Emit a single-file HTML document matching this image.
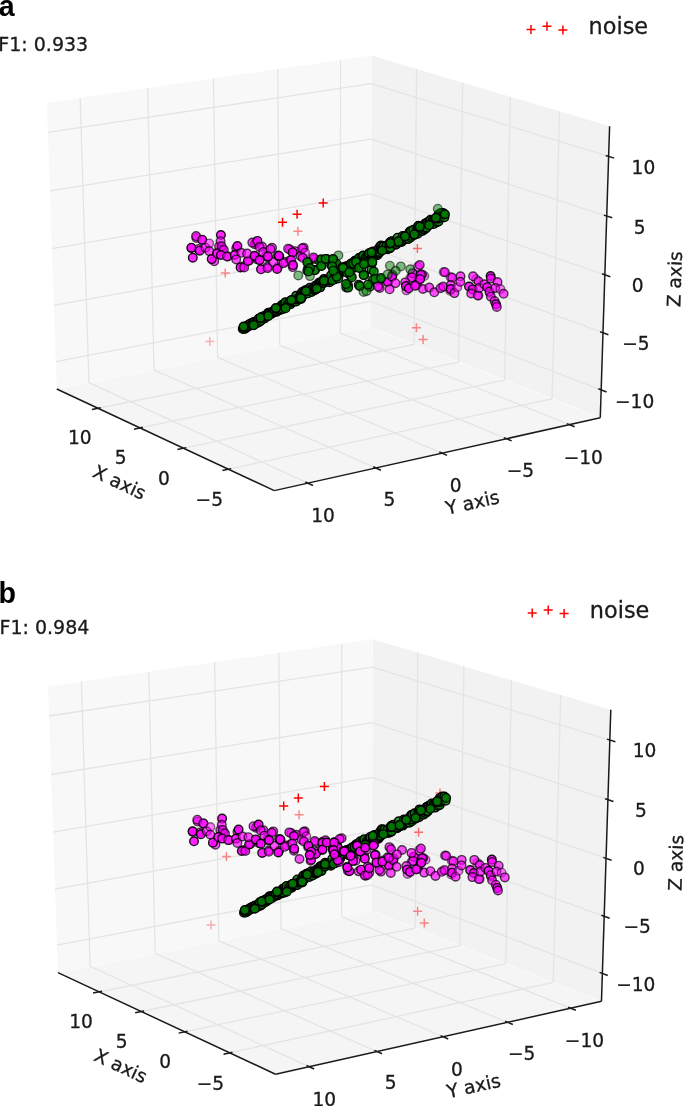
<!DOCTYPE html>
<html><head><meta charset="utf-8"><title>figure</title><style>
html,body{margin:0;padding:0;background:#fff}
svg{display:block}
text{font-family:"DejaVu Sans","Liberation Sans",sans-serif;fill:#1a1a1a;stroke:#1a1a1a;stroke-width:.3px}
.tl text{font-size:18.6px;text-anchor:middle}
.g{stroke:#e4e4e4;stroke-width:1.3}
.e{stroke:#fafafa;stroke-width:1}
.a{stroke:#1a1a1a;stroke-width:1.5;stroke-linecap:butt}
circle{stroke:#000;stroke-width:1.4}
.m1{fill:#ff00ff;fill-opacity:.5;stroke-opacity:.5}
.m2{fill:#ff00ff;fill-opacity:.68;stroke-opacity:.7}
.m3{fill:#ff00ff;fill-opacity:.85;stroke-opacity:.9}
.n1{fill:#008000;fill-opacity:.5;stroke-opacity:.55}
.n2{fill:#008000;fill-opacity:.82;stroke-opacity:.9}
.n3{fill:#008000;fill-opacity:.8;stroke-opacity:1}
.n4{fill:#008000;fill-opacity:.85;stroke-opacity:1}
.p{stroke:#ff0000;stroke-width:1.5;fill:none}
.ttl{font-family:"Liberation Sans",sans-serif;font-weight:bold;font-size:28.6px;fill:#000;stroke:none}
.f1{font-size:19px}
.lg{font-size:22.4px}
</style></head>
<body>
<svg width="685" height="1106" viewBox="0 0 685 1106">
<rect width="685" height="1106" fill="#fff"/>
<g id="pa">
<polygon points="56.76,388.99 370.25,327.27 371.28,55.55 46.91,102.79" fill="#f8f8f8"/>
<polygon points="370.25,327.27 600.28,417.73 609.6,126.25 371.28,55.55" fill="#f2f2f2"/>
<polygon points="56.76,388.99 274.32,490.62 600.28,417.73 370.25,327.27" fill="#f5f5f5"/>
<g class="pe">
<line class="e" x1="370.25" y1="327.27" x2="371.28" y2="55.55"/>
<line class="e" x1="56.76" y1="388.99" x2="370.25" y2="327.27"/>
<line class="e" x1="370.25" y1="327.27" x2="600.28" y2="417.73"/>
</g>
<g class="gr">
<line class="g" x1="98.03" y1="408.26" x2="414.05" y2="344.5"/>
<line class="g" x1="414.05" y1="344.5" x2="416.56" y2="68.99"/>
<line class="g" x1="140.09" y1="427.91" x2="458.61" y2="362.02"/>
<line class="g" x1="458.61" y1="362.02" x2="462.67" y2="82.67"/>
<line class="g" x1="183.56" y1="448.22" x2="504.58" y2="380.1"/>
<line class="g" x1="504.58" y1="380.1" x2="510.3" y2="96.79"/>
<line class="g" x1="228.52" y1="469.22" x2="552.03" y2="398.76"/>
<line class="g" x1="552.03" y1="398.76" x2="559.5" y2="111.39"/>
<line class="g" x1="307.87" y1="483.11" x2="88.89" y2="382.66"/>
<line class="g" x1="88.89" y1="382.66" x2="80.21" y2="97.94"/>
<line class="g" x1="375.75" y1="467.94" x2="153.98" y2="369.85"/>
<line class="g" x1="153.98" y1="369.85" x2="147.64" y2="88.12"/>
<line class="g" x1="441.93" y1="453.14" x2="217.57" y2="357.33"/>
<line class="g" x1="217.57" y1="357.33" x2="213.46" y2="78.54"/>
<line class="g" x1="506.47" y1="438.7" x2="279.72" y2="345.1"/>
<line class="g" x1="279.72" y1="345.1" x2="277.73" y2="69.18"/>
<line class="g" x1="569.44" y1="424.62" x2="340.46" y2="333.14"/>
<line class="g" x1="340.46" y1="333.14" x2="340.51" y2="60.03"/>
<line class="g" x1="47.93" y1="132.41" x2="371.17" y2="83.62"/>
<line class="g" x1="371.17" y1="83.62" x2="608.63" y2="156.43"/>
<line class="g" x1="49.95" y1="190.9" x2="370.96" y2="139.09"/>
<line class="g" x1="370.96" y1="139.09" x2="606.73" y2="216.03"/>
<line class="g" x1="51.93" y1="248.58" x2="370.75" y2="193.84"/>
<line class="g" x1="370.75" y1="193.84" x2="604.85" y2="274.79"/>
<line class="g" x1="53.89" y1="305.48" x2="370.55" y2="247.88"/>
<line class="g" x1="370.55" y1="247.88" x2="603" y2="332.73"/>
<line class="g" x1="55.82" y1="361.61" x2="370.35" y2="301.24"/>
<line class="g" x1="370.35" y1="301.24" x2="601.17" y2="389.87"/>
</g>
<g class="ax">
<line class="a" x1="56.76" y1="388.99" x2="274.32" y2="490.62"/>
<line class="a" x1="274.32" y1="490.62" x2="600.28" y2="417.73"/>
<line class="a" x1="600.28" y1="417.73" x2="609.6" y2="126.25"/>
<line class="a" x1="100.77" y1="407.71" x2="91.85" y2="409.51"/>
<line class="a" x1="142.83" y1="427.34" x2="133.92" y2="429.19"/>
<line class="a" x1="186.3" y1="447.63" x2="177.4" y2="449.52"/>
<line class="a" x1="231.25" y1="468.62" x2="222.36" y2="470.56"/>
<line class="a" x1="305.33" y1="481.95" x2="312.96" y2="485.45"/>
<line class="a" x1="373.19" y1="466.8" x2="380.87" y2="470.2"/>
<line class="a" x1="439.35" y1="452.04" x2="447.08" y2="455.34"/>
<line class="a" x1="503.88" y1="437.64" x2="511.65" y2="440.84"/>
<line class="a" x1="566.84" y1="423.58" x2="574.64" y2="426.7"/>
<line class="a" x1="605.76" y1="155.55" x2="614.18" y2="158.13"/>
<line class="a" x1="603.87" y1="215.1" x2="612.24" y2="217.83"/>
<line class="a" x1="602.01" y1="273.81" x2="610.33" y2="276.68"/>
<line class="a" x1="600.18" y1="331.7" x2="608.44" y2="334.72"/>
<line class="a" x1="598.37" y1="388.79" x2="606.58" y2="391.95"/>
</g>
<g class="tl">
<text x="79.8" y="444.1">10</text>
<text x="120.6" y="464.1">5</text>
<text x="163.9" y="484.9">0</text>
<text x="209.3" y="506.4">−5</text>
<text x="323.1" y="522.2">10</text>
<text x="389.5" y="505.9">5</text>
<text x="455.7" y="492">0</text>
<text x="520.5" y="476.5">−5</text>
<text x="583.3" y="463.7">−10</text>
<text x="643.4" y="173.7">10</text>
<text x="639.7" y="233.8">5</text>
<text x="637.7" y="291.8">0</text>
<text x="636" y="349.9">−5</text>
<text x="634.6" y="407.8">−10</text>
<text transform="translate(119.8 481.7) rotate(25.1)" font-size="18.9" y="7.1">X axis</text>
<text transform="translate(472.3 501.8) rotate(-12.6)" y="7.1">Y axis</text>
<text transform="translate(674 279.2) rotate(-88.2)" y="7.1">Z axis</text>
</g>
<g class="pts">
<path class="p" d="M318.7 202.9h9M323.2 198.4v9" opacity="1"/>
<path class="p" d="M292.6 214.3h9M297.1 209.8v9" opacity="1"/>
<path class="p" d="M278 222.3h9M282.5 217.8v9" opacity="1"/>
<path class="p" d="M293.4 231.2h9M297.9 226.7v9" opacity="0.45"/>
<path class="p" d="M220.7 272.9h9M225.2 268.4v9" opacity="0.45"/>
<path class="p" d="M205.3 341.4h9M209.8 336.9v9" opacity="0.3"/>
<path class="p" d="M412.9 248.6h9M417.4 244.1v9" opacity="0.55"/>
<path class="p" d="M411.9 327.7h9M416.4 323.2v9" opacity="0.45"/>
<path class="p" d="M418.6 339.4h9M423.1 334.9v9" opacity="0.45"/>
<circle class="m2" cx="196.41" cy="237.97" r="4.3"/>
<circle class="m2" cx="202.24" cy="240.08" r="4.3"/>
<circle class="m2" cx="191.46" cy="248.27" r="4.3"/>
<circle class="m2" cx="198.68" cy="248.9" r="4.3"/>
<circle class="m2" cx="214.21" cy="261.14" r="4.3"/>
<circle class="m2" cx="219.08" cy="246.42" r="4.3"/>
<circle class="m2" cx="222.19" cy="248.76" r="4.3"/>
<circle class="m2" cx="217.01" cy="253.34" r="4.3"/>
<circle class="m2" cx="227.73" cy="256.5" r="4.3"/>
<circle class="m2" cx="236.25" cy="248.19" r="4.3"/>
<circle class="m2" cx="242.79" cy="266.47" r="4.3"/>
<circle class="m2" cx="249.28" cy="260.46" r="4.3"/>
<circle class="m2" cx="254.68" cy="244.13" r="4.3"/>
<circle class="m2" cx="255.89" cy="242.71" r="4.3"/>
<circle class="m2" cx="262.1" cy="246.55" r="4.3"/>
<circle class="m2" cx="255.17" cy="257.03" r="4.3"/>
<circle class="m2" cx="257.45" cy="259.36" r="4.3"/>
<circle class="m2" cx="266.28" cy="255.44" r="4.3"/>
<circle class="m2" cx="272.04" cy="247.78" r="4.3"/>
<circle class="m2" cx="267.33" cy="266.84" r="4.3"/>
<circle class="m2" cx="277.85" cy="267.21" r="4.3"/>
<circle class="m2" cx="277.81" cy="255.49" r="4.3"/>
<circle class="m2" cx="285.5" cy="261.93" r="4.3"/>
<circle class="m2" cx="289.94" cy="249.42" r="4.3"/>
<circle class="m2" cx="295.24" cy="251.14" r="4.3"/>
<circle class="m2" cx="289.96" cy="260.45" r="4.3"/>
<circle class="m2" cx="292.76" cy="267.12" r="4.3"/>
<circle class="m2" cx="196.1" cy="236.1" r="4.3"/>
<circle class="m2" cx="202.2" cy="239.7" r="4.3"/>
<circle class="m3" cx="191.4" cy="247.7" r="4.3"/>
<circle class="m3" cx="192.8" cy="257.7" r="4.3"/>
<circle class="m3" cx="199.7" cy="250.7" r="4.3"/>
<circle class="m2" cx="205.5" cy="247.7" r="4.3"/>
<circle class="m1" cx="209.2" cy="243.4" r="4.3"/>
<circle class="m2" cx="209.2" cy="251.1" r="4.3"/>
<circle class="m3" cx="211.7" cy="259.1" r="4.3"/>
<circle class="m3" cx="220.9" cy="235" r="4.3"/>
<circle class="m2" cx="220.6" cy="241.2" r="4.3"/>
<circle class="m2" cx="221.6" cy="246.3" r="4.3"/>
<circle class="m2" cx="223.8" cy="249.9" r="4.3"/>
<circle class="m2" cx="217.2" cy="253.6" r="4.3"/>
<circle class="m3" cx="220.9" cy="255" r="4.3"/>
<circle class="m2" cx="227" cy="256.5" r="4.3"/>
<circle class="m3" cx="234.7" cy="255" r="4.3"/>
<circle class="m3" cx="237.4" cy="246" r="4.3"/>
<circle class="m2" cx="241.3" cy="252.8" r="4.3"/>
<circle class="m2" cx="236.2" cy="259.4" r="4.3"/>
<circle class="m3" cx="240.6" cy="267.4" r="4.3"/>
<circle class="m2" cx="244.2" cy="267.4" r="4.3"/>
<circle class="m3" cx="247.9" cy="260.9" r="4.3"/>
<circle class="m2" cx="247.2" cy="253.6" r="4.3"/>
<circle class="m2" cx="252.3" cy="242.6" r="4.3"/>
<circle class="m3" cx="257.4" cy="240.9" r="4.3"/>
<circle class="m2" cx="259.6" cy="247" r="4.3"/>
<circle class="m3" cx="254.5" cy="255.8" r="4.3"/>
<circle class="m3" cx="259.6" cy="260.1" r="4.3"/>
<circle class="m3" cx="261" cy="269.3" r="4.3"/>
<circle class="m2" cx="263.2" cy="252.1" r="4.3"/>
<circle class="m2" cx="267.6" cy="257.2" r="4.3"/>
<circle class="m2" cx="270.5" cy="249.2" r="4.3"/>
<circle class="m2" cx="267.6" cy="268.2" r="4.3"/>
<circle class="m2" cx="273.4" cy="262.3" r="4.3"/>
<circle class="m3" cx="277.1" cy="268.9" r="4.3"/>
<circle class="m3" cx="279.3" cy="256.5" r="4.3"/>
<circle class="m3" cx="267.9" cy="256.4" r="4.3"/>
<circle class="m3" cx="278.9" cy="255.7" r="4.3"/>
<circle class="m2" cx="283.5" cy="263.2" r="4.3"/>
<circle class="m2" cx="288.1" cy="248.8" r="4.3"/>
<circle class="m3" cx="292.7" cy="252.4" r="4.3"/>
<circle class="m2" cx="291.3" cy="260" r="4.3"/>
<circle class="m3" cx="293" cy="265.1" r="4.3"/>
<circle class="n1" cx="298.3" cy="275.4" r="4.3"/>
<circle class="n2" cx="242.76" cy="329.08" r="4.3"/>
<circle class="n2" cx="243.3" cy="328.21" r="4.3"/>
<circle class="n2" cx="244.77" cy="328.97" r="4.3"/>
<circle class="n2" cx="244.73" cy="327.1" r="4.3"/>
<circle class="n2" cx="246.16" cy="327.8" r="4.3"/>
<circle class="n2" cx="246.7" cy="326.92" r="4.3"/>
<circle class="n2" cx="247.02" cy="325.68" r="4.3"/>
<circle class="n2" cx="248.46" cy="326.39" r="4.3"/>
<circle class="n2" cx="248.52" cy="324.7" r="4.3"/>
<circle class="n2" cx="249.9" cy="325.3" r="4.3"/>
<circle class="n2" cx="250.11" cy="323.86" r="4.3"/>
<circle class="n2" cx="250.91" cy="323.45" r="4.3"/>
<circle class="n2" cx="252.22" cy="323.92" r="4.3"/>
<circle class="n2" cx="253.65" cy="324.6" r="4.3"/>
<circle class="n2" cx="253.28" cy="322.16" r="4.3"/>
<circle class="n2" cx="254.22" cy="321.99" r="4.3"/>
<circle class="n2" cx="255.67" cy="322.71" r="4.3"/>
<circle class="n2" cx="256.99" cy="323.22" r="4.3"/>
<circle class="n2" cx="257.14" cy="321.68" r="4.3"/>
<circle class="n2" cx="257.61" cy="320.69" r="4.3"/>
<circle class="n2" cx="259.4" cy="322.01" r="4.3"/>
<circle class="n3" cx="258.54" cy="318.7" r="4.3"/>
<circle class="n3" cx="260.77" cy="320.78" r="4.3"/>
<circle class="n3" cx="260.52" cy="318.54" r="4.3"/>
<circle class="n3" cx="261.02" cy="317.62" r="4.3"/>
<circle class="n3" cx="261.75" cy="317.08" r="4.3"/>
<circle class="n3" cx="262.88" cy="317.24" r="4.3"/>
<circle class="n3" cx="264.62" cy="318.46" r="4.3"/>
<circle class="n3" cx="264.18" cy="315.91" r="4.3"/>
<circle class="n3" cx="265.73" cy="316.8" r="4.3"/>
<circle class="n3" cx="266.62" cy="316.55" r="4.3"/>
<circle class="n3" cx="266.88" cy="315.19" r="4.3"/>
<circle class="n3" cx="268" cy="315.35" r="4.3"/>
<circle class="n3" cx="267.8" cy="313.2" r="4.3"/>
<circle class="n3" cx="268.56" cy="312.72" r="4.3"/>
<circle class="n3" cx="269.64" cy="312.79" r="4.3"/>
<circle class="n3" cx="271.39" cy="314.05" r="4.3"/>
<circle class="n3" cx="271.65" cy="312.68" r="4.3"/>
<circle class="n3" cx="272.18" cy="311.81" r="4.3"/>
<circle class="n3" cx="273.54" cy="312.37" r="4.3"/>
<circle class="n3" cx="274.03" cy="311.43" r="4.3"/>
<circle class="n3" cx="274.47" cy="310.4" r="4.3"/>
<circle class="n3" cx="276.34" cy="311.84" r="4.3"/>
<circle class="n3" cx="276.92" cy="311.02" r="4.3"/>
<circle class="n3" cx="276.65" cy="308.81" r="4.3"/>
<circle class="n3" cx="278.18" cy="309.64" r="4.3"/>
<circle class="n3" cx="278.84" cy="308.99" r="4.3"/>
<circle class="n3" cx="280.44" cy="309.93" r="4.3"/>
<circle class="n3" cx="280.88" cy="308.9" r="4.3"/>
<circle class="n3" cx="280.6" cy="306.66" r="4.3"/>
<circle class="n3" cx="283.04" cy="309.02" r="4.3"/>
<circle class="n3" cx="281.72" cy="305.04" r="4.3"/>
<circle class="n3" cx="283.22" cy="305.81" r="4.3"/>
<circle class="n3" cx="284.83" cy="306.77" r="4.3"/>
<circle class="n3" cx="284.1" cy="303.77" r="4.3"/>
<circle class="n3" cx="285.72" cy="304.73" r="4.3"/>
<circle class="n3" cx="285.35" cy="302.35" r="4.3"/>
<circle class="n3" cx="287.72" cy="304.59" r="4.3"/>
<circle class="n3" cx="288.74" cy="304.56" r="4.3"/>
<circle class="n3" cx="289.02" cy="303.28" r="4.3"/>
<circle class="n3" cx="290.59" cy="304.16" r="4.3"/>
<circle class="n3" cx="289.89" cy="301.21" r="4.3"/>
<circle class="n3" cx="291.67" cy="302.46" r="4.3"/>
<circle class="n3" cx="292.18" cy="301.56" r="4.3"/>
<circle class="n3" cx="292.91" cy="301.04" r="4.3"/>
<circle class="n3" cx="293.35" cy="300.01" r="4.3"/>
<circle class="n3" cx="295.18" cy="301.33" r="4.3"/>
<circle class="n3" cx="296.24" cy="301.38" r="4.3"/>
<circle class="n3" cx="295.72" cy="298.72" r="4.3"/>
<circle class="n3" cx="297.02" cy="299.17" r="4.3"/>
<circle class="n3" cx="296.1" cy="295.84" r="4.3"/>
<circle class="n3" cx="298.68" cy="298.44" r="4.3"/>
<circle class="n3" cx="299.3" cy="297.73" r="4.3"/>
<circle class="n3" cx="301.08" cy="298.97" r="4.3"/>
<circle class="n3" cx="301.37" cy="297.68" r="4.3"/>
<circle class="n3" cx="300.57" cy="294.59" r="4.3"/>
<circle class="n3" cx="301.64" cy="294.63" r="4.3"/>
<circle class="n3" cx="303.24" cy="295.56" r="4.3"/>
<circle class="n3" cx="302.13" cy="291.93" r="4.3"/>
<circle class="n3" cx="304.18" cy="293.63" r="4.3"/>
<circle class="n3" cx="304.09" cy="291.73" r="4.3"/>
<circle class="n3" cx="304.72" cy="291.02" r="4.3"/>
<circle class="n3" cx="305.32" cy="290.27" r="4.3"/>
<circle class="n3" cx="308.16" cy="293.3" r="4.3"/>
<circle class="n3" cx="307.07" cy="289.7" r="4.3"/>
<circle class="n3" cx="308.19" cy="289.83" r="4.3"/>
<circle class="n3" cx="309.37" cy="290.07" r="4.3"/>
<circle class="n3" cx="311.55" cy="291.97" r="4.3"/>
<circle class="n3" cx="310.01" cy="287.63" r="4.3"/>
<circle class="n3" cx="311.86" cy="288.98" r="4.3"/>
<circle class="n3" cx="312.92" cy="289.01" r="4.3"/>
<circle class="n3" cx="314.67" cy="290.19" r="4.3"/>
<circle class="n3" cx="315.25" cy="289.42" r="4.3"/>
<circle class="n3" cx="316.16" cy="289.18" r="4.3"/>
<circle class="n3" cx="315.22" cy="285.85" r="4.3"/>
<circle class="n3" cx="316.39" cy="286.06" r="4.3"/>
<circle class="n3" cx="317" cy="285.33" r="4.3"/>
<circle class="n3" cx="319.3" cy="287.45" r="4.3"/>
<circle class="n3" cx="320.29" cy="287.35" r="4.3"/>
<circle class="n3" cx="318.77" cy="282.92" r="4.3"/>
<circle class="n3" cx="319.62" cy="282.61" r="4.3"/>
<circle class="n3" cx="320.56" cy="282.45" r="4.3"/>
<circle class="n3" cx="321.35" cy="282.02" r="4.3"/>
<circle class="n3" cx="322.83" cy="282.84" r="4.3"/>
<circle class="n3" cx="323.91" cy="282.93" r="4.3"/>
<circle class="n3" cx="323.79" cy="280.86" r="4.3"/>
<circle class="n3" cx="323.85" cy="279.12" r="4.3"/>
<circle class="n3" cx="325.79" cy="280.77" r="4.3"/>
<circle class="n3" cx="326.43" cy="280.08" r="4.3"/>
<circle class="n3" cx="327.77" cy="280.64" r="4.3"/>
<circle class="n3" cx="329.65" cy="282.19" r="4.3"/>
<circle class="n3" cx="329.7" cy="280.41" r="4.3"/>
<circle class="n3" cx="329.99" cy="279.08" r="4.3"/>
<circle class="n3" cx="331.06" cy="279.17" r="4.3"/>
<circle class="n3" cx="332.02" cy="279.04" r="4.3"/>
<circle class="n3" cx="331.01" cy="275.37" r="4.3"/>
<circle class="n3" cx="334.24" cy="279.35" r="4.3"/>
<circle class="n3" cx="334.68" cy="278.29" r="4.3"/>
<circle class="n3" cx="335.74" cy="278.36" r="4.3"/>
<circle class="n3" cx="336.31" cy="277.53" r="4.3"/>
<circle class="n3" cx="335.91" cy="274.95" r="4.3"/>
<circle class="n3" cx="336.71" cy="274.55" r="4.3"/>
<circle class="n3" cx="336.62" cy="272.53" r="4.3"/>
<circle class="n3" cx="338.98" cy="274.93" r="4.3"/>
<circle class="n3" cx="337.92" cy="271.46" r="4.3"/>
<circle class="n3" cx="338.69" cy="271" r="4.3"/>
<circle class="n3" cx="339.91" cy="271.26" r="4.3"/>
<circle class="n3" cx="340.52" cy="270.53" r="4.3"/>
<circle class="n3" cx="341.86" cy="270.99" r="4.3"/>
<circle class="n3" cx="341.67" cy="268.99" r="4.3"/>
<circle class="n3" cx="342.25" cy="268.23" r="4.3"/>
<circle class="n3" cx="343.51" cy="268.55" r="4.3"/>
<circle class="n3" cx="344.11" cy="267.8" r="4.3"/>
<circle class="n3" cx="345.74" cy="268.73" r="4.3"/>
<circle class="n3" cx="345.36" cy="266.43" r="4.3"/>
<circle class="n3" cx="348.99" cy="270.54" r="4.3"/>
<circle class="n3" cx="348.87" cy="268.66" r="4.3"/>
<circle class="n3" cx="348.05" cy="265.65" r="4.3"/>
<circle class="n3" cx="349.16" cy="265.74" r="4.3"/>
<circle class="n3" cx="350.25" cy="265.78" r="4.3"/>
<circle class="n3" cx="351.07" cy="265.39" r="4.3"/>
<circle class="n3" cx="350.99" cy="263.58" r="4.3"/>
<circle class="n3" cx="354.26" cy="267.13" r="4.3"/>
<circle class="n3" cx="355.53" cy="267.46" r="4.3"/>
<circle class="n3" cx="354.46" cy="264.05" r="4.3"/>
<circle class="n3" cx="355.28" cy="263.68" r="4.3"/>
<circle class="n3" cx="354.65" cy="260.97" r="4.3"/>
<circle class="n3" cx="355.47" cy="260.58" r="4.3"/>
<circle class="n3" cx="357.07" cy="261.45" r="4.3"/>
<circle class="n3" cx="357.56" cy="260.53" r="4.3"/>
<circle class="n3" cx="360.32" cy="263.26" r="4.3"/>
<circle class="n3" cx="358.84" cy="258.96" r="4.3"/>
<circle class="n3" cx="359.17" cy="257.7" r="4.3"/>
<circle class="n3" cx="362.98" cy="262.76" r="4.3"/>
<circle class="n3" cx="362.39" cy="259.82" r="4.3"/>
<circle class="n3" cx="361.92" cy="257.11" r="4.3"/>
<circle class="n3" cx="364.01" cy="259.05" r="4.3"/>
<circle class="n3" cx="363.1" cy="255.53" r="4.3"/>
<circle class="n3" cx="365.53" cy="258.1" r="4.3"/>
<circle class="n3" cx="367.8" cy="260.36" r="4.3"/>
<circle class="n3" cx="368.21" cy="259.24" r="4.3"/>
<circle class="n3" cx="368.45" cy="257.8" r="4.3"/>
<circle class="n3" cx="367.8" cy="254.77" r="4.3"/>
<circle class="n3" cx="368.94" cy="254.97" r="4.3"/>
<circle class="n3" cx="369.07" cy="253.34" r="4.3"/>
<circle class="n3" cx="371.84" cy="256.53" r="4.3"/>
<circle class="n3" cx="371.84" cy="254.66" r="4.3"/>
<circle class="n3" cx="373.45" cy="255.69" r="4.3"/>
<circle class="n3" cx="372.74" cy="252.58" r="4.3"/>
<circle class="n3" cx="373.17" cy="251.51" r="4.3"/>
<circle class="n3" cx="375.91" cy="254.58" r="4.3"/>
<circle class="n3" cx="377.27" cy="255.17" r="4.3"/>
<circle class="n3" cx="377.61" cy="253.95" r="4.3"/>
<circle class="n3" cx="378.24" cy="253.23" r="4.3"/>
<circle class="n3" cx="379.07" cy="252.87" r="4.3"/>
<circle class="n3" cx="379.59" cy="251.97" r="4.3"/>
<circle class="n3" cx="378.67" cy="248.47" r="4.3"/>
<circle class="n3" cx="380.42" cy="249.77" r="4.3"/>
<circle class="n3" cx="380.67" cy="248.37" r="4.3"/>
<circle class="n3" cx="380.37" cy="245.98" r="4.3"/>
<circle class="n3" cx="381.15" cy="245.54" r="4.3"/>
<circle class="n3" cx="382.77" cy="246.6" r="4.3"/>
<circle class="n3" cx="383.49" cy="246.04" r="4.3"/>
<circle class="n3" cx="385.71" cy="248.19" r="4.3"/>
<circle class="n3" cx="387.37" cy="249.33" r="4.3"/>
<circle class="n3" cx="386.46" cy="245.85" r="4.3"/>
<circle class="n3" cx="388.72" cy="248.42" r="4.3"/>
<circle class="n3" cx="389.68" cy="248.34" r="4.3"/>
<circle class="n3" cx="390.39" cy="247.75" r="4.3"/>
<circle class="n3" cx="389.45" cy="243.74" r="4.3"/>
<circle class="n3" cx="389.83" cy="242.46" r="4.3"/>
<circle class="n3" cx="390.66" cy="242.11" r="4.3"/>
<circle class="n3" cx="391.37" cy="241.53" r="4.3"/>
<circle class="n3" cx="392.2" cy="241.19" r="4.3"/>
<circle class="n3" cx="394.26" cy="243.37" r="4.3"/>
<circle class="n3" cx="395.89" cy="244.68" r="4.3"/>
<circle class="n3" cx="396.52" cy="243.92" r="4.3"/>
<circle class="n3" cx="396.25" cy="241.31" r="4.3"/>
<circle class="n3" cx="397.58" cy="241.99" r="4.3"/>
<circle class="n3" cx="398.82" cy="242.5" r="4.3"/>
<circle class="n3" cx="397.51" cy="237.72" r="4.3"/>
<circle class="n3" cx="400.02" cy="240.86" r="4.3"/>
<circle class="n3" cx="401.57" cy="242" r="4.3"/>
<circle class="n3" cx="402" cy="240.83" r="4.3"/>
<circle class="n3" cx="402.72" cy="240.24" r="4.3"/>
<circle class="n3" cx="402.72" cy="238.18" r="4.3"/>
<circle class="n3" cx="402.63" cy="235.95" r="4.3"/>
<circle class="n3" cx="405.26" cy="239.31" r="4.3"/>
<circle class="n3" cx="404.71" cy="236.11" r="4.3"/>
<circle class="n3" cx="407.03" cy="238.5" r="4.3"/>
<circle class="n3" cx="408.39" cy="239.06" r="4.3"/>
<circle class="n3" cx="407.2" cy="235.21" r="4.3"/>
<circle class="n3" cx="408" cy="234.8" r="4.3"/>
<circle class="n3" cx="410.63" cy="237.57" r="4.3"/>
<circle class="n3" cx="410.66" cy="235.81" r="4.3"/>
<circle class="n3" cx="409.54" cy="232.08" r="4.3"/>
<circle class="n3" cx="410.17" cy="231.38" r="4.3"/>
<circle class="n3" cx="411.03" cy="231.08" r="4.3"/>
<circle class="n3" cx="414.38" cy="235.08" r="4.3"/>
<circle class="n3" cx="414.82" cy="234.05" r="4.3"/>
<circle class="n3" cx="413.35" cy="229.7" r="4.3"/>
<circle class="n3" cx="416.45" cy="233.27" r="4.3"/>
<circle class="n3" cx="417.75" cy="233.73" r="4.3"/>
<circle class="n3" cx="417.42" cy="231.37" r="4.3"/>
<circle class="n3" cx="417.15" cy="229.11" r="4.3"/>
<circle class="n3" cx="418.61" cy="229.83" r="4.3"/>
<circle class="n3" cx="417.96" cy="226.92" r="4.3"/>
<circle class="n3" cx="418.34" cy="225.78" r="4.3"/>
<circle class="n3" cx="422.36" cy="231" r="4.3"/>
<circle class="n3" cx="422.06" cy="228.65" r="4.3"/>
<circle class="n3" cx="422.43" cy="227.47" r="4.3"/>
<circle class="n3" cx="424.58" cy="229.45" r="4.3"/>
<circle class="n3" cx="423.68" cy="226.04" r="4.3"/>
<circle class="n3" cx="425.93" cy="228.2" r="4.3"/>
<circle class="n3" cx="426.56" cy="227.49" r="4.3"/>
<circle class="n3" cx="425.28" cy="223.39" r="4.3"/>
<circle class="n3" cx="426.19" cy="223.19" r="4.3"/>
<circle class="n3" cx="427.11" cy="222.99" r="4.3"/>
<circle class="n3" cx="427.72" cy="222.24" r="4.3"/>
<circle class="n3" cx="429.66" cy="223.85" r="4.3"/>
<circle class="n3" cx="429.34" cy="221.47" r="4.3"/>
<circle class="n3" cx="430.66" cy="221.97" r="4.3"/>
<circle class="n3" cx="430.48" cy="219.82" r="4.3"/>
<circle class="n3" cx="433.87" cy="224.01" r="4.3"/>
<circle class="n3" cx="432.79" cy="220.26" r="4.3"/>
<circle class="n3" cx="433.92" cy="220.44" r="4.3"/>
<circle class="n3" cx="435.12" cy="220.74" r="4.3"/>
<circle class="n3" cx="436.98" cy="222.2" r="4.3"/>
<circle class="n3" cx="436.14" cy="218.89" r="4.3"/>
<circle class="n3" cx="438.59" cy="221.4" r="4.3"/>
<circle class="n3" cx="437.97" cy="218.49" r="4.3"/>
<circle class="n3" cx="438.86" cy="218.22" r="4.3"/>
<circle class="n3" cx="439.61" cy="217.73" r="4.3"/>
<circle class="n3" cx="438.7" cy="214.29" r="4.3"/>
<circle class="n3" cx="440.89" cy="216.35" r="4.3"/>
<circle class="n3" cx="440.81" cy="214.39" r="4.3"/>
<circle class="n3" cx="440.99" cy="212.88" r="4.3"/>
<circle class="n3" cx="444.44" cy="217.16" r="4.3"/>
<circle class="n3" cx="443.12" cy="213" r="4.3"/>
<circle class="n3" cx="444.91" cy="214.34" r="4.3"/>
<circle class="n4" cx="243.58" cy="326.49" r="4.3"/>
<circle class="n4" cx="253.65" cy="325.15" r="4.3"/>
<circle class="n4" cx="260.45" cy="317.68" r="4.3"/>
<circle class="n4" cx="268.34" cy="315.89" r="4.3"/>
<circle class="n4" cx="275.8" cy="308" r="4.3"/>
<circle class="n4" cx="285.55" cy="308.14" r="4.3"/>
<circle class="n4" cx="291.43" cy="300.11" r="4.3"/>
<circle class="n4" cx="300.95" cy="298.21" r="4.3"/>
<circle class="n4" cx="306.02" cy="291.01" r="4.3"/>
<circle class="n4" cx="316.8" cy="288.53" r="4.3"/>
<circle class="n4" cx="323.92" cy="280.67" r="4.3"/>
<circle class="n4" cx="332.51" cy="280.23" r="4.3"/>
<circle class="n4" cx="338.56" cy="271.64" r="4.3"/>
<circle class="n4" cx="347.51" cy="271.63" r="4.3"/>
<circle class="n4" cx="353.22" cy="263.48" r="4.3"/>
<circle class="n4" cx="364.11" cy="261.2" r="4.3"/>
<circle class="n4" cx="371.46" cy="252.32" r="4.3"/>
<circle class="n4" cx="382.26" cy="250.54" r="4.3"/>
<circle class="n4" cx="390.5" cy="243.09" r="4.3"/>
<circle class="n4" cx="398.48" cy="241.58" r="4.3"/>
<circle class="n4" cx="405.07" cy="236.24" r="4.3"/>
<circle class="n4" cx="414.3" cy="234.3" r="4.3"/>
<circle class="n4" cx="419.81" cy="226.7" r="4.3"/>
<circle class="n4" cx="429.13" cy="225.2" r="4.3"/>
<circle class="n4" cx="435.9" cy="217.77" r="4.3"/>
<circle class="m2" cx="303.62" cy="247.65" r="4.3"/>
<circle class="m2" cx="300.48" cy="256" r="4.3"/>
<circle class="m2" cx="313.89" cy="259.01" r="4.3"/>
<circle class="m1" cx="417.9" cy="266.8" r="4.3"/>
<circle class="m1" cx="410.19" cy="278.35" r="4.3"/>
<circle class="m1" cx="424.34" cy="276.08" r="4.3"/>
<circle class="m1" cx="406.4" cy="290.34" r="4.3"/>
<circle class="m1" cx="417.16" cy="284.33" r="4.3"/>
<circle class="m1" cx="419.11" cy="275.77" r="4.3"/>
<circle class="m1" cx="418.69" cy="279.46" r="4.3"/>
<circle class="m1" cx="442.67" cy="286.9" r="4.3"/>
<circle class="m1" cx="443.7" cy="271.96" r="4.3"/>
<circle class="m1" cx="450.52" cy="277.12" r="4.3"/>
<circle class="m1" cx="450.08" cy="290.82" r="4.3"/>
<circle class="m1" cx="476.08" cy="279.28" r="4.3"/>
<circle class="m1" cx="478.51" cy="295.42" r="4.3"/>
<circle class="m1" cx="489.74" cy="292.64" r="4.3"/>
<circle class="m2" cx="379.71" cy="288" r="4.3"/>
<circle class="m2" cx="388.35" cy="281.48" r="4.3"/>
<circle class="m2" cx="392.57" cy="274.75" r="4.3"/>
<circle class="n2" cx="308.49" cy="261.71" r="4.3"/>
<circle class="n2" cx="315.02" cy="270.04" r="4.3"/>
<circle class="n2" cx="319.04" cy="260.4" r="4.3"/>
<circle class="n2" cx="321.73" cy="265.82" r="4.3"/>
<circle class="n2" cx="326.63" cy="258.89" r="4.3"/>
<circle class="n2" cx="333.59" cy="264.03" r="4.3"/>
<circle class="n2" cx="335.47" cy="264.48" r="4.3"/>
<circle class="n2" cx="340.68" cy="269.09" r="4.3"/>
<circle class="n2" cx="332.6" cy="260.82" r="4.3"/>
<circle class="n2" cx="333.06" cy="265.07" r="4.3"/>
<circle class="n2" cx="338.19" cy="278.42" r="4.3"/>
<circle class="n2" cx="342.5" cy="268.17" r="4.3"/>
<circle class="n2" cx="346.31" cy="287.58" r="4.3"/>
<circle class="n2" cx="347.91" cy="284.83" r="4.3"/>
<circle class="n2" cx="350.74" cy="275.84" r="4.3"/>
<circle class="n2" cx="358.73" cy="284.84" r="4.3"/>
<circle class="n2" cx="364.25" cy="275.07" r="4.3"/>
<circle class="n2" cx="369.76" cy="286.72" r="4.3"/>
<circle class="n2" cx="371.59" cy="269.44" r="4.3"/>
<circle class="n2" cx="372.92" cy="279.72" r="4.3"/>
<circle class="n2" cx="380.11" cy="279.38" r="4.3"/>
<circle class="n2" cx="308.11" cy="267.9" r="4.3"/>
<circle class="n2" cx="335.01" cy="269.54" r="4.3"/>
<circle class="n2" cx="347.04" cy="272.77" r="4.3"/>
<circle class="n2" cx="356.68" cy="262.58" r="4.3"/>
<circle class="n2" cx="361.28" cy="268.61" r="4.3"/>
<circle class="n2" cx="363.87" cy="262.69" r="4.3"/>
<circle class="n2" cx="372.16" cy="262.84" r="4.3"/>
<circle class="n2" cx="307.32" cy="270.72" r="4.3"/>
<circle class="m2" cx="302.2" cy="248.4" r="4.3"/>
<circle class="m1" cx="305.1" cy="252.7" r="4.3"/>
<circle class="m2" cx="302.7" cy="257.8" r="4.3"/>
<circle class="m2" cx="313.5" cy="257.4" r="4.3"/>
<circle class="m2" cx="419.7" cy="265" r="4.3"/>
<circle class="m3" cx="412.5" cy="273.2" r="4.3"/>
<circle class="m2" cx="411.8" cy="277.3" r="4.3"/>
<circle class="m3" cx="419.8" cy="278.8" r="4.3"/>
<circle class="m2" cx="422" cy="274.4" r="4.3"/>
<circle class="m2" cx="405.2" cy="282.4" r="4.3"/>
<circle class="m3" cx="405.9" cy="286.1" r="4.3"/>
<circle class="m3" cx="408.8" cy="288.3" r="4.3"/>
<circle class="m2" cx="416.1" cy="285.4" r="4.3"/>
<circle class="m2" cx="423" cy="289" r="4.3"/>
<circle class="m2" cx="429.3" cy="287.6" r="4.3"/>
<circle class="m2" cx="420.8" cy="274.8" r="4.3"/>
<circle class="m3" cx="420.1" cy="279.2" r="4.3"/>
<circle class="m2" cx="415" cy="285.8" r="4.3"/>
<circle class="m2" cx="434.3" cy="292.3" r="4.3"/>
<circle class="m2" cx="440.5" cy="288.2" r="4.3"/>
<circle class="m1" cx="443.5" cy="286.5" r="4.3"/>
<circle class="m2" cx="444.9" cy="272.2" r="4.3"/>
<circle class="m2" cx="452.2" cy="277.7" r="4.3"/>
<circle class="m2" cx="450.8" cy="285" r="4.3"/>
<circle class="m3" cx="450.8" cy="289.1" r="4.3"/>
<circle class="m2" cx="454.4" cy="293.1" r="4.3"/>
<circle class="m1" cx="457.3" cy="287.2" r="4.3"/>
<circle class="m2" cx="460.5" cy="276.3" r="4.3"/>
<circle class="m2" cx="460.3" cy="281.8" r="4.3"/>
<circle class="m2" cx="473.1" cy="276.3" r="4.3"/>
<circle class="m2" cx="478.5" cy="281.4" r="4.3"/>
<circle class="m3" cx="469" cy="286.5" r="4.3"/>
<circle class="m3" cx="472.7" cy="289.4" r="4.3"/>
<circle class="m2" cx="471.2" cy="293.5" r="4.3"/>
<circle class="m2" cx="477.8" cy="295.5" r="4.3"/>
<circle class="m2" cx="479.2" cy="288" r="4.3"/>
<circle class="m2" cx="484.3" cy="284.3" r="4.3"/>
<circle class="m3" cx="487.3" cy="287.2" r="4.3"/>
<circle class="m2" cx="489.5" cy="291.6" r="4.3"/>
<circle class="m3" cx="490.6" cy="276" r="4.3"/>
<circle class="m2" cx="490.9" cy="278.5" r="4.3"/>
<circle class="m2" cx="497.5" cy="282.1" r="4.3"/>
<circle class="m2" cx="495.3" cy="288" r="4.3"/>
<circle class="m1" cx="500.4" cy="289.1" r="4.3"/>
<circle class="m2" cx="503.6" cy="293.8" r="4.3"/>
<circle class="m2" cx="490.9" cy="296.7" r="4.3"/>
<circle class="m2" cx="494.6" cy="301.1" r="4.3"/>
<circle class="m3" cx="496" cy="304.3" r="4.3"/>
<circle class="m2" cx="496.8" cy="306.9" r="4.3"/>
<circle class="m2" cx="378.2" cy="286.4" r="4.3"/>
<circle class="m3" cx="387.7" cy="282" r="4.3"/>
<circle class="m3" cx="392" cy="276.6" r="4.3"/>
<circle class="m2" cx="395.4" cy="283.2" r="4.3"/>
<circle class="m2" cx="389.6" cy="289.3" r="4.3"/>
<circle class="n1" cx="310" cy="276.1" r="4.3"/>
<circle class="n2" cx="307.3" cy="262.2" r="4.3"/>
<circle class="n2" cx="314.6" cy="270.3" r="4.3"/>
<circle class="n2" cx="321.2" cy="259.3" r="4.3"/>
<circle class="n2" cx="321.2" cy="265.9" r="4.3"/>
<circle class="n2" cx="325.6" cy="258.9" r="4.3"/>
<circle class="n2" cx="331.4" cy="265.1" r="4.3"/>
<circle class="n1" cx="333.6" cy="259.3" r="4.3"/>
<circle class="n1" cx="338.4" cy="255.4" r="4.3"/>
<circle class="n2" cx="336.5" cy="263.7" r="4.3"/>
<circle class="n2" cx="342.4" cy="267.3" r="4.3"/>
<circle class="n2" cx="332.9" cy="259.1" r="4.3"/>
<circle class="n2" cx="332.2" cy="266.4" r="4.3"/>
<circle class="n2" cx="336.6" cy="276.6" r="4.3"/>
<circle class="n2" cx="343.1" cy="267.8" r="4.3"/>
<circle class="n2" cx="348.2" cy="287.6" r="4.3"/>
<circle class="n2" cx="346.1" cy="283.9" r="4.3"/>
<circle class="n2" cx="351.9" cy="277.3" r="4.3"/>
<circle class="n2" cx="359.9" cy="286.1" r="4.3"/>
<circle class="n1" cx="363.6" cy="291.9" r="4.3"/>
<circle class="n1" cx="366.5" cy="291.2" r="4.3"/>
<circle class="n2" cx="363.6" cy="275.1" r="4.3"/>
<circle class="n2" cx="368" cy="284.6" r="4.3"/>
<circle class="n2" cx="373.8" cy="271.5" r="4.3"/>
<circle class="n2" cx="375.3" cy="278.8" r="4.3"/>
<circle class="n2" cx="381.1" cy="278.1" r="4.3"/>
<circle class="n1" cx="389.9" cy="265.7" r="4.3"/>
<circle class="n1" cx="400.8" cy="266.4" r="4.3"/>
<circle class="n1" cx="395.7" cy="270.8" r="4.3"/>
<circle class="n1" cx="387.7" cy="274.4" r="4.3"/>
<circle class="n1" cx="410.3" cy="269.3" r="4.3"/>
<circle class="n2" cx="310" cy="268.1" r="4.3"/>
<circle class="n2" cx="333.3" cy="270.7" r="4.3"/>
<circle class="n2" cx="349.4" cy="272.2" r="4.3"/>
<circle class="n2" cx="356" cy="261.9" r="4.3"/>
<circle class="n3" cx="358.9" cy="267.8" r="4.3"/>
<circle class="n2" cx="364" cy="264.1" r="4.3"/>
<circle class="n2" cx="372.3" cy="261.9" r="4.3"/>
<circle class="n2" cx="308.5" cy="271.4" r="4.3"/>
<circle class="n1" cx="437.8" cy="208.7" r="4.3"/>
</g>
<text class="f1" x="-1.7" y="50.6">F1: 0.933</text>
<g class="lgm"><path class="p" d="M526.5 29.4h9M531 24.9v9" opacity="1"/><path class="p" d="M542.5 26.3h9M547 21.8v9" opacity="1"/><path class="p" d="M558.4 29.9h9M562.9 25.4v9" opacity="1"/></g>
<text class="lg" x="588.6" y="34.4">noise</text>
</g>
<g id="pb" transform="translate(1.2 583.6)">
<polygon points="56.76,388.99 370.25,327.27 371.28,55.55 46.91,102.79" fill="#f8f8f8"/>
<polygon points="370.25,327.27 600.28,417.73 609.6,126.25 371.28,55.55" fill="#f2f2f2"/>
<polygon points="56.76,388.99 274.32,490.62 600.28,417.73 370.25,327.27" fill="#f5f5f5"/>
<g class="pe">
<line class="e" x1="370.25" y1="327.27" x2="371.28" y2="55.55"/>
<line class="e" x1="56.76" y1="388.99" x2="370.25" y2="327.27"/>
<line class="e" x1="370.25" y1="327.27" x2="600.28" y2="417.73"/>
</g>
<g class="gr">
<line class="g" x1="98.03" y1="408.26" x2="414.05" y2="344.5"/>
<line class="g" x1="414.05" y1="344.5" x2="416.56" y2="68.99"/>
<line class="g" x1="140.09" y1="427.91" x2="458.61" y2="362.02"/>
<line class="g" x1="458.61" y1="362.02" x2="462.67" y2="82.67"/>
<line class="g" x1="183.56" y1="448.22" x2="504.58" y2="380.1"/>
<line class="g" x1="504.58" y1="380.1" x2="510.3" y2="96.79"/>
<line class="g" x1="228.52" y1="469.22" x2="552.03" y2="398.76"/>
<line class="g" x1="552.03" y1="398.76" x2="559.5" y2="111.39"/>
<line class="g" x1="307.87" y1="483.11" x2="88.89" y2="382.66"/>
<line class="g" x1="88.89" y1="382.66" x2="80.21" y2="97.94"/>
<line class="g" x1="375.75" y1="467.94" x2="153.98" y2="369.85"/>
<line class="g" x1="153.98" y1="369.85" x2="147.64" y2="88.12"/>
<line class="g" x1="441.93" y1="453.14" x2="217.57" y2="357.33"/>
<line class="g" x1="217.57" y1="357.33" x2="213.46" y2="78.54"/>
<line class="g" x1="506.47" y1="438.7" x2="279.72" y2="345.1"/>
<line class="g" x1="279.72" y1="345.1" x2="277.73" y2="69.18"/>
<line class="g" x1="569.44" y1="424.62" x2="340.46" y2="333.14"/>
<line class="g" x1="340.46" y1="333.14" x2="340.51" y2="60.03"/>
<line class="g" x1="47.93" y1="132.41" x2="371.17" y2="83.62"/>
<line class="g" x1="371.17" y1="83.62" x2="608.63" y2="156.43"/>
<line class="g" x1="49.95" y1="190.9" x2="370.96" y2="139.09"/>
<line class="g" x1="370.96" y1="139.09" x2="606.73" y2="216.03"/>
<line class="g" x1="51.93" y1="248.58" x2="370.75" y2="193.84"/>
<line class="g" x1="370.75" y1="193.84" x2="604.85" y2="274.79"/>
<line class="g" x1="53.89" y1="305.48" x2="370.55" y2="247.88"/>
<line class="g" x1="370.55" y1="247.88" x2="603" y2="332.73"/>
<line class="g" x1="55.82" y1="361.61" x2="370.35" y2="301.24"/>
<line class="g" x1="370.35" y1="301.24" x2="601.17" y2="389.87"/>
</g>
<g class="ax">
<line class="a" x1="56.76" y1="388.99" x2="274.32" y2="490.62"/>
<line class="a" x1="274.32" y1="490.62" x2="600.28" y2="417.73"/>
<line class="a" x1="600.28" y1="417.73" x2="609.6" y2="126.25"/>
<line class="a" x1="100.77" y1="407.71" x2="91.85" y2="409.51"/>
<line class="a" x1="142.83" y1="427.34" x2="133.92" y2="429.19"/>
<line class="a" x1="186.3" y1="447.63" x2="177.4" y2="449.52"/>
<line class="a" x1="231.25" y1="468.62" x2="222.36" y2="470.56"/>
<line class="a" x1="305.33" y1="481.95" x2="312.96" y2="485.45"/>
<line class="a" x1="373.19" y1="466.8" x2="380.87" y2="470.2"/>
<line class="a" x1="439.35" y1="452.04" x2="447.08" y2="455.34"/>
<line class="a" x1="503.88" y1="437.64" x2="511.65" y2="440.84"/>
<line class="a" x1="566.84" y1="423.58" x2="574.64" y2="426.7"/>
<line class="a" x1="605.76" y1="155.55" x2="614.18" y2="158.13"/>
<line class="a" x1="603.87" y1="215.1" x2="612.24" y2="217.83"/>
<line class="a" x1="602.01" y1="273.81" x2="610.33" y2="276.68"/>
<line class="a" x1="600.18" y1="331.7" x2="608.44" y2="334.72"/>
<line class="a" x1="598.37" y1="388.79" x2="606.58" y2="391.95"/>
</g>
<g class="tl">
<text x="79.8" y="444.1">10</text>
<text x="120.6" y="464.1">5</text>
<text x="163.9" y="484.9">0</text>
<text x="209.3" y="506.4">−5</text>
<text x="323.1" y="522.2">10</text>
<text x="389.5" y="505.9">5</text>
<text x="455.7" y="492">0</text>
<text x="520.5" y="476.5">−5</text>
<text x="583.3" y="463.7">−10</text>
<text x="643.4" y="173.7">10</text>
<text x="639.7" y="233.8">5</text>
<text x="637.7" y="291.8">0</text>
<text x="636" y="349.9">−5</text>
<text x="634.6" y="407.8">−10</text>
<text transform="translate(119.8 481.7) rotate(25.1)" font-size="18.9" y="7.1">X axis</text>
<text transform="translate(472.3 501.8) rotate(-12.6)" y="7.1">Y axis</text>
<text transform="translate(674 279.2) rotate(-88.2)" y="7.1">Z axis</text>
</g>
<g class="pts">
<path class="p" d="M318.7 202.9h9M323.2 198.4v9" opacity="1"/>
<path class="p" d="M292.6 214.3h9M297.1 209.8v9" opacity="1"/>
<path class="p" d="M278 222.3h9M282.5 217.8v9" opacity="1"/>
<path class="p" d="M293.4 231.2h9M297.9 226.7v9" opacity="0.45"/>
<path class="p" d="M220.7 272.9h9M225.2 268.4v9" opacity="0.45"/>
<path class="p" d="M205.3 341.4h9M209.8 336.9v9" opacity="0.3"/>
<path class="p" d="M412.9 248.6h9M417.4 244.1v9" opacity="0.55"/>
<path class="p" d="M411.9 327.7h9M416.4 323.2v9" opacity="0.45"/>
<path class="p" d="M418.6 339.4h9M423.1 334.9v9" opacity="0.45"/>
<path class="p" d="M434.3 209.3h9M438.8 204.8v9" opacity="0.5"/>
<circle class="m2" cx="196.41" cy="237.97" r="4.3"/>
<circle class="m2" cx="202.24" cy="240.08" r="4.3"/>
<circle class="m2" cx="191.46" cy="248.27" r="4.3"/>
<circle class="m2" cx="198.68" cy="248.9" r="4.3"/>
<circle class="m2" cx="214.21" cy="261.14" r="4.3"/>
<circle class="m2" cx="219.08" cy="246.42" r="4.3"/>
<circle class="m2" cx="222.19" cy="248.76" r="4.3"/>
<circle class="m2" cx="217.01" cy="253.34" r="4.3"/>
<circle class="m2" cx="227.73" cy="256.5" r="4.3"/>
<circle class="m2" cx="236.25" cy="248.19" r="4.3"/>
<circle class="m2" cx="242.79" cy="266.47" r="4.3"/>
<circle class="m2" cx="249.28" cy="260.46" r="4.3"/>
<circle class="m2" cx="254.68" cy="244.13" r="4.3"/>
<circle class="m2" cx="255.89" cy="242.71" r="4.3"/>
<circle class="m2" cx="262.1" cy="246.55" r="4.3"/>
<circle class="m2" cx="255.17" cy="257.03" r="4.3"/>
<circle class="m2" cx="257.45" cy="259.36" r="4.3"/>
<circle class="m2" cx="266.28" cy="255.44" r="4.3"/>
<circle class="m2" cx="272.04" cy="247.78" r="4.3"/>
<circle class="m2" cx="267.33" cy="266.84" r="4.3"/>
<circle class="m2" cx="277.85" cy="267.21" r="4.3"/>
<circle class="m2" cx="277.81" cy="255.49" r="4.3"/>
<circle class="m2" cx="285.5" cy="261.93" r="4.3"/>
<circle class="m2" cx="289.94" cy="249.42" r="4.3"/>
<circle class="m2" cx="295.24" cy="251.14" r="4.3"/>
<circle class="m2" cx="289.96" cy="260.45" r="4.3"/>
<circle class="m2" cx="292.76" cy="267.12" r="4.3"/>
<circle class="m2" cx="196.1" cy="236.1" r="4.3"/>
<circle class="m2" cx="202.2" cy="239.7" r="4.3"/>
<circle class="m3" cx="191.4" cy="247.7" r="4.3"/>
<circle class="m3" cx="192.8" cy="257.7" r="4.3"/>
<circle class="m3" cx="199.7" cy="250.7" r="4.3"/>
<circle class="m2" cx="205.5" cy="247.7" r="4.3"/>
<circle class="m1" cx="209.2" cy="243.4" r="4.3"/>
<circle class="m2" cx="209.2" cy="251.1" r="4.3"/>
<circle class="m3" cx="211.7" cy="259.1" r="4.3"/>
<circle class="m3" cx="220.9" cy="235" r="4.3"/>
<circle class="m2" cx="220.6" cy="241.2" r="4.3"/>
<circle class="m2" cx="221.6" cy="246.3" r="4.3"/>
<circle class="m2" cx="223.8" cy="249.9" r="4.3"/>
<circle class="m2" cx="217.2" cy="253.6" r="4.3"/>
<circle class="m3" cx="220.9" cy="255" r="4.3"/>
<circle class="m2" cx="227" cy="256.5" r="4.3"/>
<circle class="m3" cx="234.7" cy="255" r="4.3"/>
<circle class="m3" cx="237.4" cy="246" r="4.3"/>
<circle class="m2" cx="241.3" cy="252.8" r="4.3"/>
<circle class="m2" cx="236.2" cy="259.4" r="4.3"/>
<circle class="m3" cx="240.6" cy="267.4" r="4.3"/>
<circle class="m2" cx="244.2" cy="267.4" r="4.3"/>
<circle class="m3" cx="247.9" cy="260.9" r="4.3"/>
<circle class="m2" cx="247.2" cy="253.6" r="4.3"/>
<circle class="m2" cx="252.3" cy="242.6" r="4.3"/>
<circle class="m3" cx="257.4" cy="240.9" r="4.3"/>
<circle class="m2" cx="259.6" cy="247" r="4.3"/>
<circle class="m3" cx="254.5" cy="255.8" r="4.3"/>
<circle class="m3" cx="259.6" cy="260.1" r="4.3"/>
<circle class="m3" cx="261" cy="269.3" r="4.3"/>
<circle class="m2" cx="263.2" cy="252.1" r="4.3"/>
<circle class="m2" cx="267.6" cy="257.2" r="4.3"/>
<circle class="m2" cx="270.5" cy="249.2" r="4.3"/>
<circle class="m2" cx="267.6" cy="268.2" r="4.3"/>
<circle class="m2" cx="273.4" cy="262.3" r="4.3"/>
<circle class="m3" cx="277.1" cy="268.9" r="4.3"/>
<circle class="m3" cx="279.3" cy="256.5" r="4.3"/>
<circle class="m3" cx="267.9" cy="256.4" r="4.3"/>
<circle class="m3" cx="278.9" cy="255.7" r="4.3"/>
<circle class="m2" cx="283.5" cy="263.2" r="4.3"/>
<circle class="m2" cx="288.1" cy="248.8" r="4.3"/>
<circle class="m3" cx="292.7" cy="252.4" r="4.3"/>
<circle class="m2" cx="291.3" cy="260" r="4.3"/>
<circle class="m3" cx="293" cy="265.1" r="4.3"/>
<circle class="m2" cx="298.3" cy="275.4" r="4.3"/>
<circle class="n2" cx="242.76" cy="329.08" r="4.3"/>
<circle class="n2" cx="243.3" cy="328.21" r="4.3"/>
<circle class="n2" cx="244.77" cy="328.97" r="4.3"/>
<circle class="n2" cx="244.73" cy="327.1" r="4.3"/>
<circle class="n2" cx="246.16" cy="327.8" r="4.3"/>
<circle class="n2" cx="246.7" cy="326.92" r="4.3"/>
<circle class="n2" cx="247.02" cy="325.68" r="4.3"/>
<circle class="n2" cx="248.46" cy="326.39" r="4.3"/>
<circle class="n2" cx="248.52" cy="324.7" r="4.3"/>
<circle class="n2" cx="249.9" cy="325.3" r="4.3"/>
<circle class="n2" cx="250.11" cy="323.86" r="4.3"/>
<circle class="n2" cx="250.91" cy="323.45" r="4.3"/>
<circle class="n2" cx="252.22" cy="323.92" r="4.3"/>
<circle class="n2" cx="253.65" cy="324.6" r="4.3"/>
<circle class="n2" cx="253.28" cy="322.16" r="4.3"/>
<circle class="n2" cx="254.22" cy="321.99" r="4.3"/>
<circle class="n2" cx="255.67" cy="322.71" r="4.3"/>
<circle class="n2" cx="256.99" cy="323.22" r="4.3"/>
<circle class="n2" cx="257.14" cy="321.68" r="4.3"/>
<circle class="n2" cx="257.61" cy="320.69" r="4.3"/>
<circle class="n2" cx="259.4" cy="322.01" r="4.3"/>
<circle class="n3" cx="258.54" cy="318.7" r="4.3"/>
<circle class="n3" cx="260.77" cy="320.78" r="4.3"/>
<circle class="n3" cx="260.52" cy="318.54" r="4.3"/>
<circle class="n3" cx="261.02" cy="317.62" r="4.3"/>
<circle class="n3" cx="261.75" cy="317.08" r="4.3"/>
<circle class="n3" cx="262.88" cy="317.24" r="4.3"/>
<circle class="n3" cx="264.62" cy="318.46" r="4.3"/>
<circle class="n3" cx="264.18" cy="315.91" r="4.3"/>
<circle class="n3" cx="265.73" cy="316.8" r="4.3"/>
<circle class="n3" cx="266.62" cy="316.55" r="4.3"/>
<circle class="n3" cx="266.88" cy="315.19" r="4.3"/>
<circle class="n3" cx="268" cy="315.35" r="4.3"/>
<circle class="n3" cx="267.8" cy="313.2" r="4.3"/>
<circle class="n3" cx="268.56" cy="312.72" r="4.3"/>
<circle class="n3" cx="269.64" cy="312.79" r="4.3"/>
<circle class="n3" cx="271.39" cy="314.05" r="4.3"/>
<circle class="n3" cx="271.65" cy="312.68" r="4.3"/>
<circle class="n3" cx="272.18" cy="311.81" r="4.3"/>
<circle class="n3" cx="273.54" cy="312.37" r="4.3"/>
<circle class="n3" cx="274.03" cy="311.43" r="4.3"/>
<circle class="n3" cx="274.47" cy="310.4" r="4.3"/>
<circle class="n3" cx="276.34" cy="311.84" r="4.3"/>
<circle class="n3" cx="276.92" cy="311.02" r="4.3"/>
<circle class="n3" cx="276.65" cy="308.81" r="4.3"/>
<circle class="n3" cx="278.18" cy="309.64" r="4.3"/>
<circle class="n3" cx="278.84" cy="308.99" r="4.3"/>
<circle class="n3" cx="280.44" cy="309.93" r="4.3"/>
<circle class="n3" cx="280.88" cy="308.9" r="4.3"/>
<circle class="n3" cx="280.6" cy="306.66" r="4.3"/>
<circle class="n3" cx="283.04" cy="309.02" r="4.3"/>
<circle class="n3" cx="281.72" cy="305.04" r="4.3"/>
<circle class="n3" cx="283.22" cy="305.81" r="4.3"/>
<circle class="n3" cx="284.83" cy="306.77" r="4.3"/>
<circle class="n3" cx="284.1" cy="303.77" r="4.3"/>
<circle class="n3" cx="285.72" cy="304.73" r="4.3"/>
<circle class="n3" cx="285.35" cy="302.35" r="4.3"/>
<circle class="n3" cx="287.72" cy="304.59" r="4.3"/>
<circle class="n3" cx="288.74" cy="304.56" r="4.3"/>
<circle class="n3" cx="289.02" cy="303.28" r="4.3"/>
<circle class="n3" cx="290.59" cy="304.16" r="4.3"/>
<circle class="n3" cx="289.89" cy="301.21" r="4.3"/>
<circle class="n3" cx="291.67" cy="302.46" r="4.3"/>
<circle class="n3" cx="292.18" cy="301.56" r="4.3"/>
<circle class="n3" cx="292.91" cy="301.04" r="4.3"/>
<circle class="n3" cx="293.35" cy="300.01" r="4.3"/>
<circle class="n3" cx="295.18" cy="301.33" r="4.3"/>
<circle class="n3" cx="296.24" cy="301.38" r="4.3"/>
<circle class="n3" cx="295.72" cy="298.72" r="4.3"/>
<circle class="n3" cx="297.02" cy="299.17" r="4.3"/>
<circle class="n3" cx="296.1" cy="295.84" r="4.3"/>
<circle class="n3" cx="298.68" cy="298.44" r="4.3"/>
<circle class="n3" cx="299.3" cy="297.73" r="4.3"/>
<circle class="n3" cx="301.08" cy="298.97" r="4.3"/>
<circle class="n3" cx="301.37" cy="297.68" r="4.3"/>
<circle class="n3" cx="300.57" cy="294.59" r="4.3"/>
<circle class="n3" cx="301.64" cy="294.63" r="4.3"/>
<circle class="n3" cx="303.24" cy="295.56" r="4.3"/>
<circle class="n3" cx="302.13" cy="291.93" r="4.3"/>
<circle class="n3" cx="304.18" cy="293.63" r="4.3"/>
<circle class="n3" cx="304.09" cy="291.73" r="4.3"/>
<circle class="n3" cx="304.72" cy="291.02" r="4.3"/>
<circle class="n3" cx="305.32" cy="290.27" r="4.3"/>
<circle class="n3" cx="308.16" cy="293.3" r="4.3"/>
<circle class="n3" cx="307.07" cy="289.7" r="4.3"/>
<circle class="n3" cx="308.19" cy="289.83" r="4.3"/>
<circle class="n3" cx="309.37" cy="290.07" r="4.3"/>
<circle class="n3" cx="311.55" cy="291.97" r="4.3"/>
<circle class="n3" cx="310.01" cy="287.63" r="4.3"/>
<circle class="n3" cx="311.86" cy="288.98" r="4.3"/>
<circle class="n3" cx="312.92" cy="289.01" r="4.3"/>
<circle class="n3" cx="314.67" cy="290.19" r="4.3"/>
<circle class="n3" cx="315.25" cy="289.42" r="4.3"/>
<circle class="n3" cx="316.16" cy="289.18" r="4.3"/>
<circle class="n3" cx="315.22" cy="285.85" r="4.3"/>
<circle class="n3" cx="316.39" cy="286.06" r="4.3"/>
<circle class="n3" cx="317" cy="285.33" r="4.3"/>
<circle class="n3" cx="319.3" cy="287.45" r="4.3"/>
<circle class="n3" cx="320.29" cy="287.35" r="4.3"/>
<circle class="n3" cx="318.77" cy="282.92" r="4.3"/>
<circle class="n3" cx="319.62" cy="282.61" r="4.3"/>
<circle class="n3" cx="320.56" cy="282.45" r="4.3"/>
<circle class="n3" cx="321.35" cy="282.02" r="4.3"/>
<circle class="n3" cx="322.83" cy="282.84" r="4.3"/>
<circle class="n3" cx="323.91" cy="282.93" r="4.3"/>
<circle class="n3" cx="323.79" cy="280.86" r="4.3"/>
<circle class="n3" cx="323.85" cy="279.12" r="4.3"/>
<circle class="n3" cx="325.79" cy="280.77" r="4.3"/>
<circle class="n3" cx="326.43" cy="280.08" r="4.3"/>
<circle class="n3" cx="327.77" cy="280.64" r="4.3"/>
<circle class="n3" cx="329.65" cy="282.19" r="4.3"/>
<circle class="n3" cx="329.7" cy="280.41" r="4.3"/>
<circle class="n3" cx="329.99" cy="279.08" r="4.3"/>
<circle class="n3" cx="331.06" cy="279.17" r="4.3"/>
<circle class="n3" cx="332.02" cy="279.04" r="4.3"/>
<circle class="n3" cx="331.01" cy="275.37" r="4.3"/>
<circle class="n3" cx="334.24" cy="279.35" r="4.3"/>
<circle class="n3" cx="334.68" cy="278.29" r="4.3"/>
<circle class="n3" cx="335.74" cy="278.36" r="4.3"/>
<circle class="n3" cx="336.31" cy="277.53" r="4.3"/>
<circle class="n3" cx="335.91" cy="274.95" r="4.3"/>
<circle class="n3" cx="336.71" cy="274.55" r="4.3"/>
<circle class="n3" cx="336.62" cy="272.53" r="4.3"/>
<circle class="n3" cx="338.98" cy="274.93" r="4.3"/>
<circle class="n3" cx="337.92" cy="271.46" r="4.3"/>
<circle class="n3" cx="338.69" cy="271" r="4.3"/>
<circle class="n3" cx="339.91" cy="271.26" r="4.3"/>
<circle class="n3" cx="340.52" cy="270.53" r="4.3"/>
<circle class="n3" cx="341.86" cy="270.99" r="4.3"/>
<circle class="n3" cx="341.67" cy="268.99" r="4.3"/>
<circle class="n3" cx="342.25" cy="268.23" r="4.3"/>
<circle class="n3" cx="343.51" cy="268.55" r="4.3"/>
<circle class="n3" cx="344.11" cy="267.8" r="4.3"/>
<circle class="n3" cx="345.74" cy="268.73" r="4.3"/>
<circle class="n3" cx="345.36" cy="266.43" r="4.3"/>
<circle class="n3" cx="348.99" cy="270.54" r="4.3"/>
<circle class="n3" cx="348.87" cy="268.66" r="4.3"/>
<circle class="n3" cx="348.05" cy="265.65" r="4.3"/>
<circle class="n3" cx="349.16" cy="265.74" r="4.3"/>
<circle class="n3" cx="350.25" cy="265.78" r="4.3"/>
<circle class="n3" cx="351.07" cy="265.39" r="4.3"/>
<circle class="n3" cx="350.99" cy="263.58" r="4.3"/>
<circle class="n3" cx="354.26" cy="267.13" r="4.3"/>
<circle class="n3" cx="355.53" cy="267.46" r="4.3"/>
<circle class="n3" cx="354.46" cy="264.05" r="4.3"/>
<circle class="n3" cx="355.28" cy="263.68" r="4.3"/>
<circle class="n3" cx="354.65" cy="260.97" r="4.3"/>
<circle class="n3" cx="355.47" cy="260.58" r="4.3"/>
<circle class="n3" cx="357.07" cy="261.45" r="4.3"/>
<circle class="n3" cx="357.56" cy="260.53" r="4.3"/>
<circle class="n3" cx="360.32" cy="263.26" r="4.3"/>
<circle class="n3" cx="358.84" cy="258.96" r="4.3"/>
<circle class="n3" cx="359.17" cy="257.7" r="4.3"/>
<circle class="n3" cx="362.98" cy="262.76" r="4.3"/>
<circle class="n3" cx="362.39" cy="259.82" r="4.3"/>
<circle class="n3" cx="361.92" cy="257.11" r="4.3"/>
<circle class="n3" cx="364.01" cy="259.05" r="4.3"/>
<circle class="n3" cx="363.1" cy="255.53" r="4.3"/>
<circle class="n3" cx="365.53" cy="258.1" r="4.3"/>
<circle class="n3" cx="367.8" cy="260.36" r="4.3"/>
<circle class="n3" cx="368.21" cy="259.24" r="4.3"/>
<circle class="n3" cx="368.45" cy="257.8" r="4.3"/>
<circle class="n3" cx="367.8" cy="254.77" r="4.3"/>
<circle class="n3" cx="368.94" cy="254.97" r="4.3"/>
<circle class="n3" cx="369.07" cy="253.34" r="4.3"/>
<circle class="n3" cx="371.84" cy="256.53" r="4.3"/>
<circle class="n3" cx="371.84" cy="254.66" r="4.3"/>
<circle class="n3" cx="373.45" cy="255.69" r="4.3"/>
<circle class="n3" cx="372.74" cy="252.58" r="4.3"/>
<circle class="n3" cx="373.17" cy="251.51" r="4.3"/>
<circle class="n3" cx="375.91" cy="254.58" r="4.3"/>
<circle class="n3" cx="377.27" cy="255.17" r="4.3"/>
<circle class="n3" cx="377.61" cy="253.95" r="4.3"/>
<circle class="n3" cx="378.24" cy="253.23" r="4.3"/>
<circle class="n3" cx="379.07" cy="252.87" r="4.3"/>
<circle class="n3" cx="379.59" cy="251.97" r="4.3"/>
<circle class="n3" cx="378.67" cy="248.47" r="4.3"/>
<circle class="n3" cx="380.42" cy="249.77" r="4.3"/>
<circle class="n3" cx="380.67" cy="248.37" r="4.3"/>
<circle class="n3" cx="380.37" cy="245.98" r="4.3"/>
<circle class="n3" cx="381.15" cy="245.54" r="4.3"/>
<circle class="n3" cx="382.77" cy="246.6" r="4.3"/>
<circle class="n3" cx="383.49" cy="246.04" r="4.3"/>
<circle class="n3" cx="385.71" cy="248.19" r="4.3"/>
<circle class="n3" cx="387.37" cy="249.33" r="4.3"/>
<circle class="n3" cx="386.46" cy="245.85" r="4.3"/>
<circle class="n3" cx="388.72" cy="248.42" r="4.3"/>
<circle class="n3" cx="389.68" cy="248.34" r="4.3"/>
<circle class="n3" cx="390.39" cy="247.75" r="4.3"/>
<circle class="n3" cx="389.45" cy="243.74" r="4.3"/>
<circle class="n3" cx="389.83" cy="242.46" r="4.3"/>
<circle class="n3" cx="390.66" cy="242.11" r="4.3"/>
<circle class="n3" cx="391.37" cy="241.53" r="4.3"/>
<circle class="n3" cx="392.2" cy="241.19" r="4.3"/>
<circle class="n3" cx="394.26" cy="243.37" r="4.3"/>
<circle class="n3" cx="395.89" cy="244.68" r="4.3"/>
<circle class="n3" cx="396.52" cy="243.92" r="4.3"/>
<circle class="n3" cx="396.25" cy="241.31" r="4.3"/>
<circle class="n3" cx="397.58" cy="241.99" r="4.3"/>
<circle class="n3" cx="398.82" cy="242.5" r="4.3"/>
<circle class="n3" cx="397.51" cy="237.72" r="4.3"/>
<circle class="n3" cx="400.02" cy="240.86" r="4.3"/>
<circle class="n3" cx="401.57" cy="242" r="4.3"/>
<circle class="n3" cx="402" cy="240.83" r="4.3"/>
<circle class="n3" cx="402.72" cy="240.24" r="4.3"/>
<circle class="n3" cx="402.72" cy="238.18" r="4.3"/>
<circle class="n3" cx="402.63" cy="235.95" r="4.3"/>
<circle class="n3" cx="405.26" cy="239.31" r="4.3"/>
<circle class="n3" cx="404.71" cy="236.11" r="4.3"/>
<circle class="n3" cx="407.03" cy="238.5" r="4.3"/>
<circle class="n3" cx="408.39" cy="239.06" r="4.3"/>
<circle class="n3" cx="407.2" cy="235.21" r="4.3"/>
<circle class="n3" cx="408" cy="234.8" r="4.3"/>
<circle class="n3" cx="410.63" cy="237.57" r="4.3"/>
<circle class="n3" cx="410.66" cy="235.81" r="4.3"/>
<circle class="n3" cx="409.54" cy="232.08" r="4.3"/>
<circle class="n3" cx="410.17" cy="231.38" r="4.3"/>
<circle class="n3" cx="411.03" cy="231.08" r="4.3"/>
<circle class="n3" cx="414.38" cy="235.08" r="4.3"/>
<circle class="n3" cx="414.82" cy="234.05" r="4.3"/>
<circle class="n3" cx="413.35" cy="229.7" r="4.3"/>
<circle class="n3" cx="416.45" cy="233.27" r="4.3"/>
<circle class="n3" cx="417.75" cy="233.73" r="4.3"/>
<circle class="n3" cx="417.42" cy="231.37" r="4.3"/>
<circle class="n3" cx="417.15" cy="229.11" r="4.3"/>
<circle class="n3" cx="418.61" cy="229.83" r="4.3"/>
<circle class="n3" cx="417.96" cy="226.92" r="4.3"/>
<circle class="n3" cx="418.34" cy="225.78" r="4.3"/>
<circle class="n3" cx="422.36" cy="231" r="4.3"/>
<circle class="n3" cx="422.06" cy="228.65" r="4.3"/>
<circle class="n3" cx="422.43" cy="227.47" r="4.3"/>
<circle class="n3" cx="424.58" cy="229.45" r="4.3"/>
<circle class="n3" cx="423.68" cy="226.04" r="4.3"/>
<circle class="n3" cx="425.93" cy="228.2" r="4.3"/>
<circle class="n3" cx="426.56" cy="227.49" r="4.3"/>
<circle class="n3" cx="425.28" cy="223.39" r="4.3"/>
<circle class="n3" cx="426.19" cy="223.19" r="4.3"/>
<circle class="n3" cx="427.11" cy="222.99" r="4.3"/>
<circle class="n3" cx="427.72" cy="222.24" r="4.3"/>
<circle class="n3" cx="429.66" cy="223.85" r="4.3"/>
<circle class="n3" cx="429.34" cy="221.47" r="4.3"/>
<circle class="n3" cx="430.66" cy="221.97" r="4.3"/>
<circle class="n3" cx="430.48" cy="219.82" r="4.3"/>
<circle class="n3" cx="433.87" cy="224.01" r="4.3"/>
<circle class="n3" cx="432.79" cy="220.26" r="4.3"/>
<circle class="n3" cx="433.92" cy="220.44" r="4.3"/>
<circle class="n3" cx="435.12" cy="220.74" r="4.3"/>
<circle class="n3" cx="436.98" cy="222.2" r="4.3"/>
<circle class="n3" cx="436.14" cy="218.89" r="4.3"/>
<circle class="n3" cx="438.59" cy="221.4" r="4.3"/>
<circle class="n3" cx="437.97" cy="218.49" r="4.3"/>
<circle class="n3" cx="438.86" cy="218.22" r="4.3"/>
<circle class="n3" cx="439.61" cy="217.73" r="4.3"/>
<circle class="n3" cx="438.7" cy="214.29" r="4.3"/>
<circle class="n3" cx="440.89" cy="216.35" r="4.3"/>
<circle class="n3" cx="440.81" cy="214.39" r="4.3"/>
<circle class="n3" cx="440.99" cy="212.88" r="4.3"/>
<circle class="n3" cx="444.44" cy="217.16" r="4.3"/>
<circle class="n3" cx="443.12" cy="213" r="4.3"/>
<circle class="n3" cx="444.91" cy="214.34" r="4.3"/>
<circle class="n4" cx="243.58" cy="326.49" r="4.3"/>
<circle class="n4" cx="253.65" cy="325.15" r="4.3"/>
<circle class="n4" cx="260.45" cy="317.68" r="4.3"/>
<circle class="n4" cx="268.34" cy="315.89" r="4.3"/>
<circle class="n4" cx="275.8" cy="308" r="4.3"/>
<circle class="n4" cx="285.55" cy="308.14" r="4.3"/>
<circle class="n4" cx="291.43" cy="300.11" r="4.3"/>
<circle class="n4" cx="300.95" cy="298.21" r="4.3"/>
<circle class="n4" cx="306.02" cy="291.01" r="4.3"/>
<circle class="n4" cx="316.8" cy="288.53" r="4.3"/>
<circle class="n4" cx="323.92" cy="280.67" r="4.3"/>
<circle class="n4" cx="332.51" cy="280.23" r="4.3"/>
<circle class="n4" cx="338.56" cy="271.64" r="4.3"/>
<circle class="n4" cx="347.51" cy="271.63" r="4.3"/>
<circle class="n4" cx="353.22" cy="263.48" r="4.3"/>
<circle class="n4" cx="364.11" cy="261.2" r="4.3"/>
<circle class="n4" cx="371.46" cy="252.32" r="4.3"/>
<circle class="n4" cx="382.26" cy="250.54" r="4.3"/>
<circle class="n4" cx="390.5" cy="243.09" r="4.3"/>
<circle class="n4" cx="398.48" cy="241.58" r="4.3"/>
<circle class="n4" cx="405.07" cy="236.24" r="4.3"/>
<circle class="n4" cx="414.3" cy="234.3" r="4.3"/>
<circle class="n4" cx="419.81" cy="226.7" r="4.3"/>
<circle class="n4" cx="429.13" cy="225.2" r="4.3"/>
<circle class="n4" cx="435.9" cy="217.77" r="4.3"/>
<circle class="m2" cx="303.62" cy="247.65" r="4.3"/>
<circle class="m2" cx="300.48" cy="256" r="4.3"/>
<circle class="m2" cx="313.89" cy="259.01" r="4.3"/>
<circle class="m1" cx="417.9" cy="266.8" r="4.3"/>
<circle class="m1" cx="410.19" cy="278.35" r="4.3"/>
<circle class="m1" cx="424.34" cy="276.08" r="4.3"/>
<circle class="m1" cx="406.4" cy="290.34" r="4.3"/>
<circle class="m1" cx="417.16" cy="284.33" r="4.3"/>
<circle class="m1" cx="419.11" cy="275.77" r="4.3"/>
<circle class="m1" cx="418.69" cy="279.46" r="4.3"/>
<circle class="m1" cx="442.67" cy="286.9" r="4.3"/>
<circle class="m1" cx="443.7" cy="271.96" r="4.3"/>
<circle class="m1" cx="450.52" cy="277.12" r="4.3"/>
<circle class="m1" cx="450.08" cy="290.82" r="4.3"/>
<circle class="m1" cx="476.08" cy="279.28" r="4.3"/>
<circle class="m1" cx="478.51" cy="295.42" r="4.3"/>
<circle class="m1" cx="489.74" cy="292.64" r="4.3"/>
<circle class="m2" cx="379.71" cy="288" r="4.3"/>
<circle class="m2" cx="388.35" cy="281.48" r="4.3"/>
<circle class="m2" cx="392.57" cy="274.75" r="4.3"/>
<circle class="m2" cx="309.42" cy="277.13" r="4.3"/>
<circle class="m2" cx="306.99" cy="263.69" r="4.3"/>
<circle class="m2" cx="315.9" cy="268.23" r="4.3"/>
<circle class="m2" cx="321.1" cy="258.11" r="4.3"/>
<circle class="m2" cx="321.19" cy="266.4" r="4.3"/>
<circle class="m2" cx="324.33" cy="256.75" r="4.3"/>
<circle class="m2" cx="332.33" cy="263.79" r="4.3"/>
<circle class="m2" cx="335.71" cy="260" r="4.3"/>
<circle class="m2" cx="340.44" cy="254.64" r="4.3"/>
<circle class="m2" cx="334.93" cy="263.4" r="4.3"/>
<circle class="m2" cx="344.55" cy="268.97" r="4.3"/>
<circle class="m2" cx="333.33" cy="258.29" r="4.3"/>
<circle class="m2" cx="332.18" cy="267.88" r="4.3"/>
<circle class="m2" cx="337.7" cy="278.58" r="4.3"/>
<circle class="m2" cx="341.38" cy="267.58" r="4.3"/>
<circle class="m2" cx="346.71" cy="287.22" r="4.3"/>
<circle class="m2" cx="346.07" cy="283.09" r="4.3"/>
<circle class="m2" cx="354.41" cy="277.09" r="4.3"/>
<circle class="m2" cx="357.46" cy="287.74" r="4.3"/>
<circle class="m2" cx="364.68" cy="292.21" r="4.3"/>
<circle class="m2" cx="368.02" cy="289.08" r="4.3"/>
<circle class="m2" cx="363.37" cy="273.01" r="4.3"/>
<circle class="m2" cx="366.63" cy="283.02" r="4.3"/>
<circle class="m2" cx="374.47" cy="271.26" r="4.3"/>
<circle class="m2" cx="376.11" cy="280.15" r="4.3"/>
<circle class="m2" cx="382.06" cy="276.78" r="4.3"/>
<circle class="m2" cx="388.23" cy="263.55" r="4.3"/>
<circle class="m2" cx="386.52" cy="273.72" r="4.3"/>
<circle class="m2" cx="310.6" cy="269.23" r="4.3"/>
<circle class="m2" cx="334.82" cy="272.49" r="4.3"/>
<circle class="m2" cx="351.65" cy="273.18" r="4.3"/>
<circle class="m2" cx="355.76" cy="262.45" r="4.3"/>
<circle class="m2" cx="358.26" cy="268.1" r="4.3"/>
<circle class="m2" cx="365.54" cy="266.05" r="4.3"/>
<circle class="m2" cx="373.09" cy="260.6" r="4.3"/>
<circle class="m2" cx="310.16" cy="272.02" r="4.3"/>
<circle class="m2" cx="302.2" cy="248.4" r="4.3"/>
<circle class="m1" cx="305.1" cy="252.7" r="4.3"/>
<circle class="m2" cx="302.7" cy="257.8" r="4.3"/>
<circle class="m2" cx="313.5" cy="257.4" r="4.3"/>
<circle class="m2" cx="419.7" cy="265" r="4.3"/>
<circle class="m3" cx="412.5" cy="273.2" r="4.3"/>
<circle class="m2" cx="411.8" cy="277.3" r="4.3"/>
<circle class="m3" cx="419.8" cy="278.8" r="4.3"/>
<circle class="m2" cx="422" cy="274.4" r="4.3"/>
<circle class="m2" cx="405.2" cy="282.4" r="4.3"/>
<circle class="m3" cx="405.9" cy="286.1" r="4.3"/>
<circle class="m3" cx="408.8" cy="288.3" r="4.3"/>
<circle class="m2" cx="416.1" cy="285.4" r="4.3"/>
<circle class="m2" cx="423" cy="289" r="4.3"/>
<circle class="m2" cx="429.3" cy="287.6" r="4.3"/>
<circle class="m2" cx="420.8" cy="274.8" r="4.3"/>
<circle class="m3" cx="420.1" cy="279.2" r="4.3"/>
<circle class="m2" cx="415" cy="285.8" r="4.3"/>
<circle class="m2" cx="434.3" cy="292.3" r="4.3"/>
<circle class="m2" cx="440.5" cy="288.2" r="4.3"/>
<circle class="m1" cx="443.5" cy="286.5" r="4.3"/>
<circle class="m2" cx="444.9" cy="272.2" r="4.3"/>
<circle class="m2" cx="452.2" cy="277.7" r="4.3"/>
<circle class="m2" cx="450.8" cy="285" r="4.3"/>
<circle class="m3" cx="450.8" cy="289.1" r="4.3"/>
<circle class="m2" cx="454.4" cy="293.1" r="4.3"/>
<circle class="m1" cx="457.3" cy="287.2" r="4.3"/>
<circle class="m2" cx="460.5" cy="276.3" r="4.3"/>
<circle class="m2" cx="460.3" cy="281.8" r="4.3"/>
<circle class="m2" cx="473.1" cy="276.3" r="4.3"/>
<circle class="m2" cx="478.5" cy="281.4" r="4.3"/>
<circle class="m3" cx="469" cy="286.5" r="4.3"/>
<circle class="m3" cx="472.7" cy="289.4" r="4.3"/>
<circle class="m2" cx="471.2" cy="293.5" r="4.3"/>
<circle class="m2" cx="477.8" cy="295.5" r="4.3"/>
<circle class="m2" cx="479.2" cy="288" r="4.3"/>
<circle class="m2" cx="484.3" cy="284.3" r="4.3"/>
<circle class="m3" cx="487.3" cy="287.2" r="4.3"/>
<circle class="m2" cx="489.5" cy="291.6" r="4.3"/>
<circle class="m3" cx="490.6" cy="276" r="4.3"/>
<circle class="m2" cx="490.9" cy="278.5" r="4.3"/>
<circle class="m2" cx="497.5" cy="282.1" r="4.3"/>
<circle class="m2" cx="495.3" cy="288" r="4.3"/>
<circle class="m1" cx="500.4" cy="289.1" r="4.3"/>
<circle class="m2" cx="503.6" cy="293.8" r="4.3"/>
<circle class="m2" cx="490.9" cy="296.7" r="4.3"/>
<circle class="m2" cx="494.6" cy="301.1" r="4.3"/>
<circle class="m3" cx="496" cy="304.3" r="4.3"/>
<circle class="m2" cx="496.8" cy="306.9" r="4.3"/>
<circle class="m2" cx="378.2" cy="286.4" r="4.3"/>
<circle class="m3" cx="387.7" cy="282" r="4.3"/>
<circle class="m3" cx="392" cy="276.6" r="4.3"/>
<circle class="m2" cx="395.4" cy="283.2" r="4.3"/>
<circle class="m2" cx="389.6" cy="289.3" r="4.3"/>
<circle class="m2" cx="310" cy="276.1" r="4.3"/>
<circle class="m3" cx="307.3" cy="262.2" r="4.3"/>
<circle class="m3" cx="314.6" cy="270.3" r="4.3"/>
<circle class="m3" cx="321.2" cy="259.3" r="4.3"/>
<circle class="m3" cx="321.2" cy="265.9" r="4.3"/>
<circle class="m3" cx="325.6" cy="258.9" r="4.3"/>
<circle class="m3" cx="331.4" cy="265.1" r="4.3"/>
<circle class="m2" cx="333.6" cy="259.3" r="4.3"/>
<circle class="m2" cx="338.4" cy="255.4" r="4.3"/>
<circle class="m3" cx="336.5" cy="263.7" r="4.3"/>
<circle class="m3" cx="342.4" cy="267.3" r="4.3"/>
<circle class="m3" cx="332.9" cy="259.1" r="4.3"/>
<circle class="m3" cx="332.2" cy="266.4" r="4.3"/>
<circle class="m3" cx="336.6" cy="276.6" r="4.3"/>
<circle class="m3" cx="343.1" cy="267.8" r="4.3"/>
<circle class="m3" cx="348.2" cy="287.6" r="4.3"/>
<circle class="m3" cx="346.1" cy="283.9" r="4.3"/>
<circle class="m3" cx="351.9" cy="277.3" r="4.3"/>
<circle class="m3" cx="359.9" cy="286.1" r="4.3"/>
<circle class="m2" cx="363.6" cy="291.9" r="4.3"/>
<circle class="m2" cx="366.5" cy="291.2" r="4.3"/>
<circle class="m3" cx="363.6" cy="275.1" r="4.3"/>
<circle class="m3" cx="368" cy="284.6" r="4.3"/>
<circle class="m3" cx="373.8" cy="271.5" r="4.3"/>
<circle class="m3" cx="375.3" cy="278.8" r="4.3"/>
<circle class="m3" cx="381.1" cy="278.1" r="4.3"/>
<circle class="m2" cx="389.9" cy="265.7" r="4.3"/>
<circle class="m2" cx="400.8" cy="266.4" r="4.3"/>
<circle class="m2" cx="395.7" cy="270.8" r="4.3"/>
<circle class="m2" cx="387.7" cy="274.4" r="4.3"/>
<circle class="m2" cx="410.3" cy="269.3" r="4.3"/>
<circle class="m3" cx="310" cy="268.1" r="4.3"/>
<circle class="m3" cx="333.3" cy="270.7" r="4.3"/>
<circle class="m3" cx="349.4" cy="272.2" r="4.3"/>
<circle class="m3" cx="356" cy="261.9" r="4.3"/>
<circle class="m3" cx="358.9" cy="267.8" r="4.3"/>
<circle class="m3" cx="364" cy="264.1" r="4.3"/>
<circle class="m3" cx="372.3" cy="261.9" r="4.3"/>
<circle class="m3" cx="308.5" cy="271.4" r="4.3"/>
</g>
<text class="f1" x="-1.7" y="50.6">F1: 0.984</text>
<g class="lgm"><path class="p" d="M526.5 29.4h9M531 24.9v9" opacity="1"/><path class="p" d="M542.5 26.3h9M547 21.8v9" opacity="1"/><path class="p" d="M558.4 29.9h9M562.9 25.4v9" opacity="1"/></g>
<text class="lg" x="588.6" y="34.4">noise</text>
</g>
<text class="ttl" x="-1.2" y="15.5">a</text>
<text class="ttl" x="-1.6" y="602.8" font-size="28">b</text>
</svg>
</body></html>
